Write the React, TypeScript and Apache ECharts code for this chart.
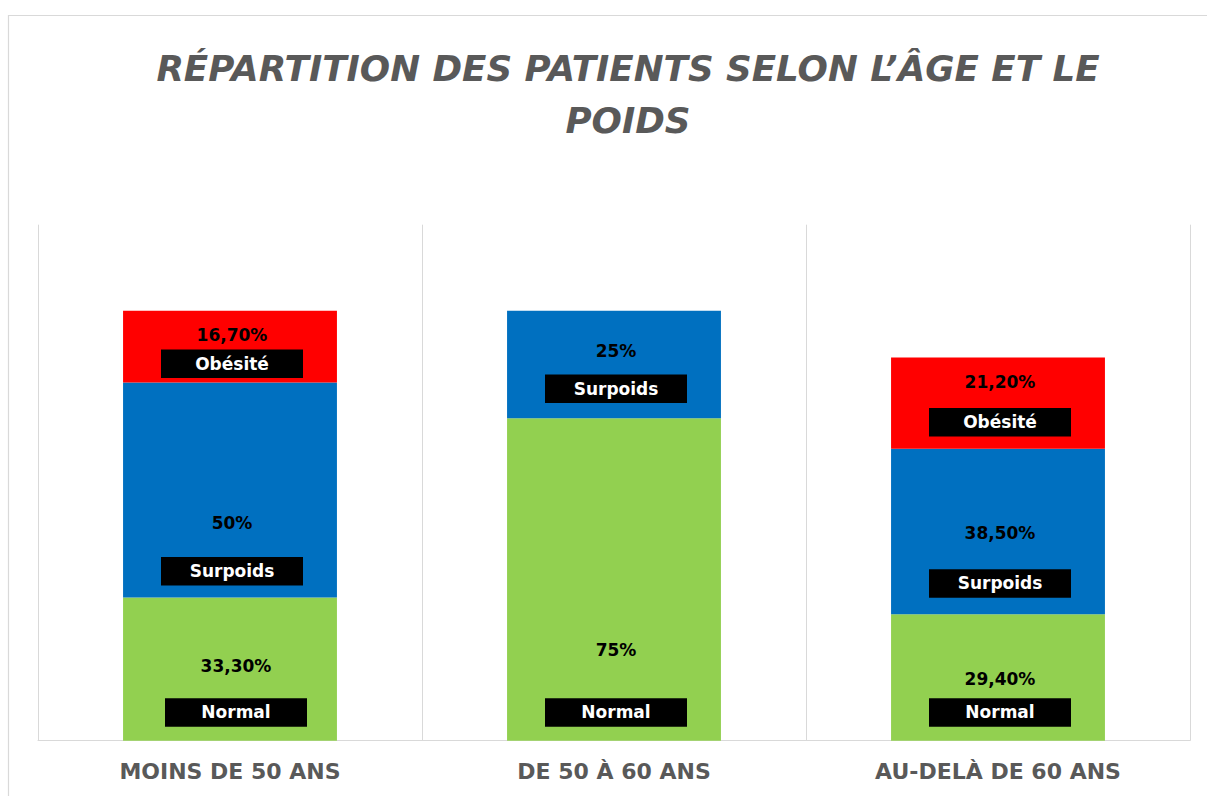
import React, { useEffect, useRef } from "react";
import * as echarts from "echarts";

const categories = ["MOINS DE 50 ANS", "DE 50 À 60 ANS", "AU-DELÀ DE 60 ANS"];
const seriesNames = ["Normal", "Surpoids", "Obésité"];
const normalValues = [33.3, 75, 29.4];
const surpoidsValues = [50, 25, 38.5];
const obesiteValues: (number | null)[] = [16.7, null, 21.2];
const seriesColors = ["#92D050", "#0070C0", "#FF0000"];

// label layout (px): distance from value text centre to tag top, tag bottom to segment bottom
const valueGap = [
  [32, 48, 19],
  [34, 23.3, 36],
  [14.3, 0, 26.3],
];
const tagGap = [
  [14, 14, 14],
  [12, 15.3, 16.6],
  [4.6, 0, 12.3],
];
const tagShift = [
  [6, 2, 2],
  [2, 2, 2],
  [2, 2, 2],
];

const FONT = "DejaVu Sans";

function fmt(v: number): string {
  if (Number.isInteger(v)) return `${v}%`;
  return v.toFixed(2).replace(".", ",") + "%";
}

export default function App() {
  const ref = useRef<HTMLDivElement>(null);
  useEffect(() => {
    if (!ref.current) return;
    const chart = echarts.init(ref.current, undefined, { renderer: "svg" });
    const allValues = [normalValues, surpoidsValues, obesiteValues];
    const series = allValues.map((vals, si) => ({
      name: seriesNames[si],
      type: "bar",
      stack: "total",
      barWidth: "55.7%",
      itemStyle: { color: seriesColors[si] },
      data: vals.map((v, ci) =>
        v == null
          ? "-"
          : {
              value: v,
              label: {
                show: true,
                position: "insideBottom",
                distance: tagGap[si][ci],
                offset: [tagShift[si][ci], 0],
                formatter: `{v|${fmt(v)}}\n{n|${seriesNames[si]}}`,
                rich: {
                  v: {
                    fontFamily: FONT,
                    fontSize: 17,
                    fontWeight: "bold",
                    color: "#000000",
                    lineHeight: 2 * valueGap[si][ci],
                    align: "center",
                  },
                  n: {
                    fontFamily: FONT,
                    fontSize: 17,
                    fontWeight: "bold",
                    color: "#ffffff",
                    backgroundColor: "#000000",
                    width: 142,
                    height: 28.5,
                    lineHeight: 28.5,
                    align: "center",
                  },
                },
              },
            }
      ),
    }));
    chart.setOption({
      animation: false,
      backgroundColor: "#ffffff",
      title: {
        text: "RÉPARTITION DES PATIENTS SELON L’ÂGE ET LE\nPOIDS",
        left: 628,
        top: 42,
        padding: 0,
        textAlign: "center",
        textStyle: {
          fontFamily: FONT,
          fontSize: 35.7,
          fontWeight: "bold",
          fontStyle: "italic",
          color: "#595959",
          lineHeight: 52,
        },
      },
      graphic: [
        {
          type: "rect",
          shape: { x: 8.5, y: 15.5, width: 1400, height: 1000 },
          style: { fill: "none", stroke: "#d9d9d9", lineWidth: 1.2 },
          silent: true,
        },
      ],
      grid: { left: 38, right: 17, top: 224.7, height: 516, containLabel: false },
      xAxis: {
        type: "category",
        data: categories,
        axisLine: { show: true, lineStyle: { color: "#d9d9d9", width: 1 } },
        axisTick: { show: false },
        splitLine: { show: true, lineStyle: { color: "#d9d9d9", width: 1 } },
        axisLabel: {
          margin: 20,
          fontFamily: FONT,
          fontSize: 22,
          fontWeight: "bold",
          color: "#595959",
        },
      },
      yAxis: {
        type: "value",
        min: 0,
        max: 120,
        show: false,
        splitLine: { show: false },
      },
      series,
    });
    return () => chart.dispose();
  }, []);
  return (
    <div
      ref={ref}
      style={{ position: "absolute", left: 0, top: 0, width: 1207, height: 796 }}
    />
  );
}
